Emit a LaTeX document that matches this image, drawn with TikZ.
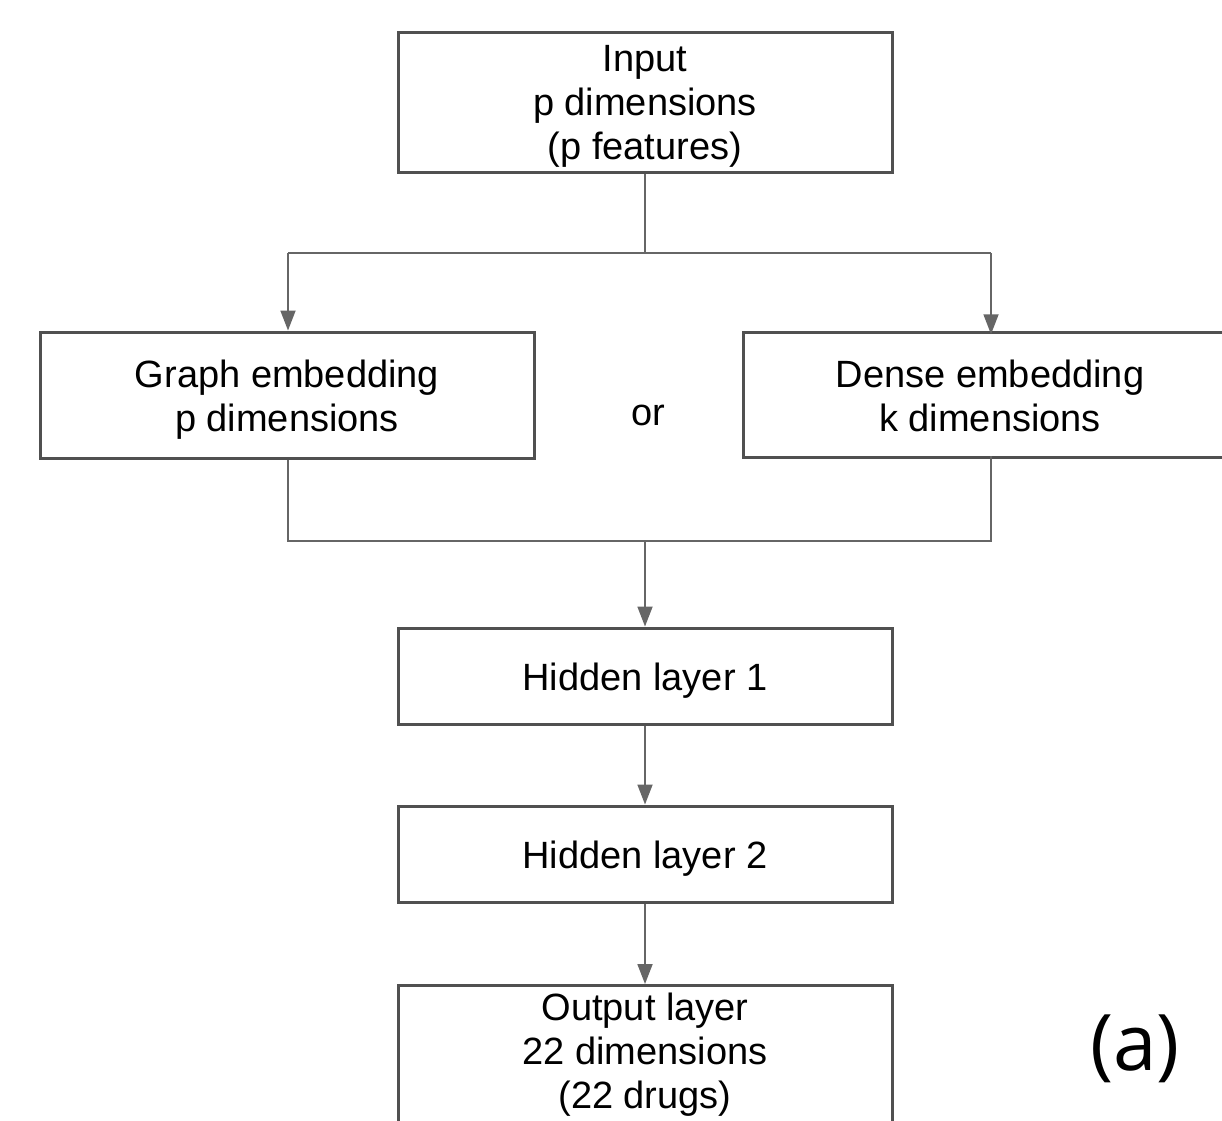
\documentclass[tikz,border=0pt]{standalone}
\usepackage{fontspec}
\setmainfont{Liberation Sans}
\newfontfamily\labelfont{Open Sans}
\usetikzlibrary{arrows.meta}
\definecolor{boxgray}{HTML}{505050}
\definecolor{linegray}{HTML}{666666}
\newcommand{\ls}{\strut}
\newcommand{\lsdown}[1]{\rule{0pt}{\dimexpr 30.8pt+#1\relax}}
\begin{document}
\begin{tikzpicture}[x=1pt,y=-1pt,
  layerbox/.style={draw=boxgray,line width=3pt,fill=white,inner sep=0pt,align=center,
    font=\fontsize{38}{44}\selectfont},
  conn/.style={draw=linegray,line width=1.8pt},
  arr/.style={conn,-{Triangle[length=20pt,width=15pt]}}]
\useasboundingbox (0,0) rectangle (1222,1120);
\node[layerbox,minimum width=494pt,minimum height=139pt] (input) at (645,102.5)
  {\lsdown{8pt}Input\\\ls p dimensions\\\ls (p features)};
\node[layerbox,minimum width=494pt,minimum height=126pt] (graph) at (287,395)
  {\lsdown{12pt}Graph embedding\\\ls p dimensions};
\node[layerbox,draw=none,outer sep=0pt,minimum width=494pt,minimum height=124.5pt] (dense) at (990,395)
  {\lsdown{12pt}Dense embedding\\\ls k dimensions};
\draw[draw=boxgray,line width=3pt] ([xshift=40pt]dense.north east) -- (dense.north west)
  -- (dense.south west) -- ([xshift=40pt]dense.south east);
\node[font=\fontsize{38}{44}\selectfont] (or) at (648,415) {or};
\node[layerbox,minimum width=494pt,minimum height=96pt] (h1) at (645,676)
  {\lsdown{12pt}\ls Hidden layer 1};
\node[layerbox,minimum width=494pt,minimum height=96pt] (h2) at (645,854)
  {\lsdown{12pt}\ls Hidden layer 2};
\node[layerbox,anchor=north,minimum width=494pt,minimum height=140pt] (out) at (645,984)
  {\ls Output layer\\\ls 22 dimensions\\\ls (22 drugs)};
\node[font=\labelfont\fontsize{78}{90}\selectfont] (lab) at (1135,1049) {(a)};
\coordinate (split) at (645,253);
\coordinate (gl) at (288,253);
\coordinate (dl) at (991,253);
\coordinate (gm) at (288,541);
\coordinate (dm) at (991,541);
\coordinate (merge) at (645,541);
\draw[conn] (input.south) -- (split);
\draw[conn] (gl) -- (dl);
\draw[arr] (gl) -- (gl |- graph.north);
\draw[arr] (dl) -- ([yshift=-1.5pt]dl |- dense.north);
\draw[conn] (gm |- graph.south) -- (gm) -- (dm) -- ([yshift=1.5pt]dm |- dense.south);
\draw[arr] (merge) -- (h1.north);
\draw[arr] (h1.south) -- (h2.north);
\draw[arr] (h2.south) -- (out.north);
\end{tikzpicture}
\end{document}
